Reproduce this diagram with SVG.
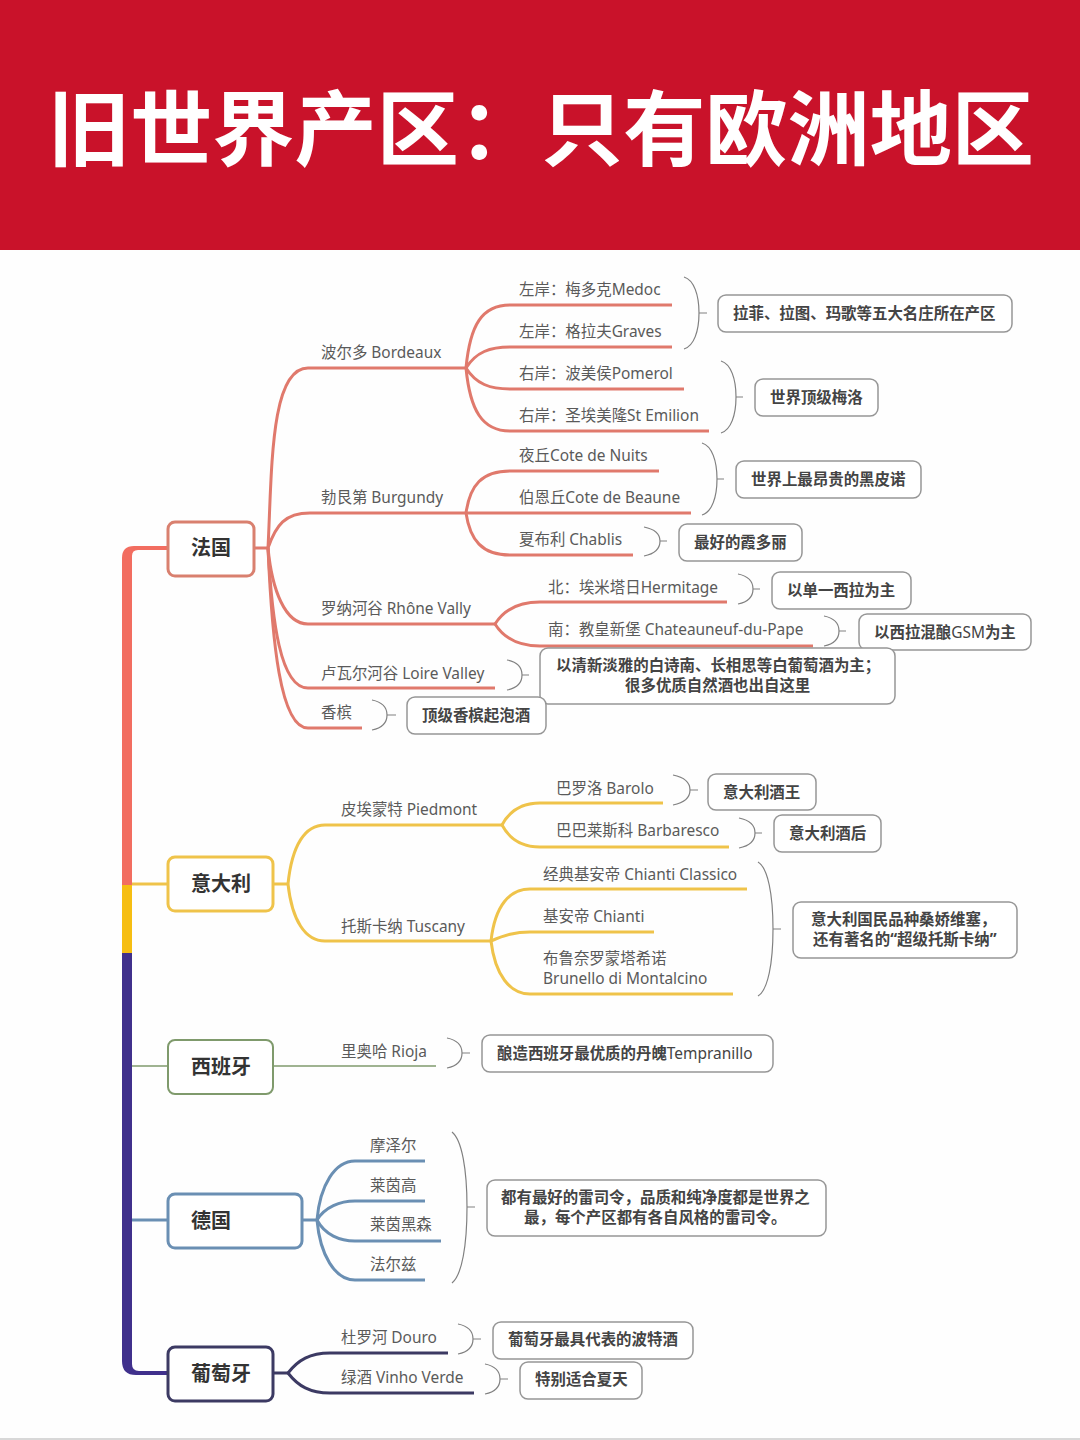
<svg xmlns="http://www.w3.org/2000/svg" width="1080" height="1440" viewBox="0 0 1080 1440">
<style>
text{font-family:"Noto Sans","Noto Sans CJK SC",sans-serif}
.l{font-size:15.45px;fill:#5a5a5a;transform:translateY(1px)}
.n{font-size:15.45px;font-weight:700;fill:#444;transform:translateY(1px)}
.w{font-weight:400}
.m{font-size:20px;font-weight:700;fill:#333}
.t{font-size:82px;font-weight:700;fill:#fff;font-family:"Noto Sans CJK SC",sans-serif}
.b{fill:#fff;stroke:#969696;stroke-width:1.5}
.k{fill:none;stroke:#808080;stroke-width:1.2}
.c{fill:none;stroke-linecap:butt}
.r{stroke:#e0796c;stroke-width:3}
.y{stroke:#efc34a;stroke-width:3}
.g{stroke:#7f9a6c;stroke-width:1.6}
.e{stroke:#6a8fb3;stroke-width:3}
.p{stroke:#3c3a63;stroke-width:3}
.mb{fill:#fff;stroke-width:3}
</style>
<rect width="1080" height="1440" fill="#fefefe"/>
<rect width="1080" height="250" fill="#c9122a"/>
<rect y="1438" width="1080" height="2" fill="#d8d8d8"/>
<text class="t" x="48" y="159" textLength="986" lengthAdjust="spacingAndGlyphs">旧世界产区：只有欧洲地区</text>
<g id="connectors">
<g id="spine">
<path d="M122 885V558Q122 546 134 546H168V550H138Q132 550 132 556V885Z" fill="#f26d60"/>
<rect x="122" y="885" width="10" height="68" fill="#f6be12"/>
<path d="M122 953H132V1364Q132 1371 139 1371H168V1375H136Q122 1375 122 1361Z" fill="#40308c"/>
</g>
<path class="c y" d="M132 884H168"/>
<path class="c g" d="M132 1066H168"/>
<path class="c e" d="M132 1220H168"/>
<g class="c r">
<path d="M254 548H268"/>
<path d="M268 548C272 470 270 368 308 368H466"/>
<path d="M268 548C276 525 285 513 310 513H466"/>
<path d="M268 548C272 590 285 624 308 624H495"/>
<path d="M268 548C272 620 280 688 308 688H495"/>
<path d="M268 548C272 640 280 728 308 728H362"/>
<path d="M466 368C470 325 482 305 510 305H672"/>
<path d="M466 368C476 352 490 347 510 347H672"/>
<path d="M466 368C476 384 490 389 510 389H684"/>
<path d="M466 368C470 410 482 431 510 431H709"/>
<path d="M466 513C470 485 482 471 510 471H659"/>
<path d="M466 513H691"/>
<path d="M466 513C470 540 482 555 510 555H633"/>
<path d="M495 624C505 608 520 602 540 602H727"/>
<path d="M495 624C505 640 520 646 540 646H813"/>
</g>
<g class="c y">
<path d="M273 884H288"/>
<path d="M288 884C292 845 305 825 325 825H502"/>
<path d="M288 884C292 920 305 941 325 941H491"/>
<path d="M502 825C510 810 522 803 540 803H663"/>
<path d="M502 825C510 840 522 847 540 847H729"/>
<path d="M491 941C495 905 510 889 530 889H747"/>
<path d="M491 941C505 935 515 932 530 932H654"/>
<path d="M491 941C495 975 510 994 530 994H733"/>
</g>
<path class="c g" d="M273 1066H436"/>
<g class="c e">
<path d="M302 1220H317"/>
<path d="M317 1220C320 1185 335 1161 355 1161H425"/>
<path d="M317 1220C325 1207 340 1201 355 1201H425"/>
<path d="M317 1220C325 1235 340 1241 355 1241H441"/>
<path d="M317 1220C320 1255 335 1280 355 1280H425"/>
</g>
<g class="c p">
<path d="M273 1373H288"/>
<path d="M288 1373C298 1360 310 1353 330 1353H448"/>
<path d="M288 1373C298 1386 310 1393 330 1393H474"/>
</g>
<g class="k">
<path d="M684 277C694 280 699 295 699 313C699 331 694 346 684 349M699 313H707"/>
<path d="M721 361C731 364 736 379 736 397C736 415 731 430 721 433M736 397H743"/>
<path d="M702 443C712 446 717 461 717 479C717 497 712 512 702 515M717 479H724"/>
<path d="M644 527C654 529 660 534 660 541C660 549 654 554 644 556M660 541H667"/>
<path d="M738 574C748 576 753 581 753 589C753 597 748 602 738 604M753 589H760"/>
<path d="M824 616C834 618 839 623 839 631C839 639 834 644 824 646M839 631H846"/>
<path d="M507 660C517 662 522 667 522 675C522 683 517 688 507 690M522 675H529"/>
<path d="M372 700C382 702 387 707 387 715C387 723 382 728 372 730M387 715H396"/>
<path d="M673 775C683 777 690 782 690 790C690 798 683 803 673 805M690 790H698"/>
<path d="M739 818C749 820 755 825 755 833C755 841 749 846 739 848M755 833H762"/>
<path d="M758 862C768 868 773 895 773 929C773 963 768 990 758 996M773 929H781"/>
<path d="M447 1038C457 1040 462 1045 462 1053C462 1061 457 1066 447 1068M462 1053H470"/>
<path d="M452 1132C462 1140 467 1170 467 1207C467 1245 462 1275 452 1283M467 1207H475"/>
<path d="M458 1324C468 1326 473 1331 473 1339C473 1347 468 1352 458 1354M473 1339H481"/>
<path d="M485 1364C495 1366 500 1371 500 1379C500 1387 495 1392 485 1394M500 1379H508"/>
</g>
</g>
<g id="fr"><rect class="mb" x="168" y="522" width="86" height="54" rx="7" stroke="#d9806f"/><text class="m" x="191" y="555">法国</text></g>
<g id="it"><rect class="mb" x="168" y="857" width="105" height="54" rx="7" stroke="#efc34a"/><text class="m" x="191" y="891">意大利</text></g>
<g id="es"><rect class="mb" x="168" y="1040" width="105" height="54" rx="7" stroke="#7f9a6c" style="stroke-width:2"/><text class="m" x="191" y="1074">西班牙</text></g>
<g id="de"><rect class="mb" x="168" y="1194" width="134" height="54" rx="7" stroke="#6a8fb3"/><text class="m" x="191" y="1228">德国</text></g>
<g id="pt"><rect class="mb" x="168" y="1347" width="105" height="54" rx="7" stroke="#3c3a63"/><text class="m" x="191" y="1381">葡萄牙</text></g>
<g id="labels-fr">
<text class="l" x="321" y="357">波尔多 Bordeaux</text>
<text class="l" x="321" y="502">勃艮第 Burgundy</text>
<text class="l" x="321" y="613">罗纳河谷 Rhône Vally</text>
<text class="l" x="321" y="678">卢瓦尔河谷 Loire Valley</text>
<text class="l" x="321" y="717">香槟</text>
<text class="l" x="519" y="294">左岸：梅多克Medoc</text>
<text class="l" x="519" y="336">左岸：格拉夫Graves</text>
<text class="l" x="519" y="378">右岸：波美侯Pomerol</text>
<text class="l" x="519" y="420">右岸：圣埃美隆St Emilion</text>
<text class="l" x="519" y="460">夜丘Cote de Nuits</text>
<text class="l" x="519" y="502">伯恩丘Cote de Beaune</text>
<text class="l" x="519" y="544">夏布利 Chablis</text>
<text class="l" x="548" y="592">北：埃米塔日Hermitage</text>
<text class="l" x="548" y="634">南：教皇新堡 Chateauneuf-du-Pape</text>
</g>
<g id="labels-it">
<text class="l" x="341" y="814">皮埃蒙特 Piedmont</text>
<text class="l" x="341" y="931">托斯卡纳 Tuscany</text>
<text class="l" x="556" y="793">巴罗洛 Barolo</text>
<text class="l" x="556" y="835">巴巴莱斯科 Barbaresco</text>
<text class="l" x="543" y="879">经典基安帝 Chianti Classico</text>
<text class="l" x="543" y="921">基安帝 Chianti</text>
<text class="l" x="543" y="963">布鲁奈罗蒙塔希诺</text>
<text class="l" x="543" y="983">Brunello di Montalcino</text>
</g>
<g id="labels-es"><text class="l" x="341" y="1056">里奥哈 Rioja</text></g>
<g id="labels-de">
<text class="l" x="370" y="1150">摩泽尔</text>
<text class="l" x="370" y="1190">莱茵高</text>
<text class="l" x="370" y="1229">莱茵黑森</text>
<text class="l" x="370" y="1269">法尔兹</text>
</g>
<g id="labels-pt">
<text class="l" x="341" y="1342">杜罗河 Douro</text>
<text class="l" x="341" y="1382">绿酒 Vinho Verde</text>
</g>
<g id="n1"><rect class="b" x="718" y="295" width="294" height="37" rx="8"/><text class="n" x="733" y="318">拉菲、拉图、玛歌等五大名庄所在产区</text></g>
<g id="n2"><rect class="b" x="755" y="379" width="123" height="37" rx="8"/><text class="n" x="770" y="402">世界顶级梅洛</text></g>
<g id="n3"><rect class="b" x="736" y="461" width="185" height="37" rx="8"/><text class="n" x="751" y="484">世界上最昂贵的黑皮诺</text></g>
<g id="n4"><rect class="b" x="679" y="524" width="123" height="37" rx="8"/><text class="n" x="694" y="547">最好的霞多丽</text></g>
<g id="n5"><rect class="b" x="772" y="572" width="139" height="37" rx="8"/><text class="n" x="787" y="595">以单一西拉为主</text></g>
<g id="n6"><rect class="b" x="859" y="614" width="172" height="36" rx="8"/><text class="n" x="874" y="637">以西拉混酿<tspan class="w">GSM</tspan>为主</text></g>
<g id="n7"><rect class="b" x="540" y="648" width="355" height="56" rx="8"/><text class="n" x="556" y="670">以清新淡雅的白诗南、长相思等白葡萄酒为主；</text><text class="n" x="625" y="690">很多优质自然酒也出自这里</text></g>
<g id="n8"><rect class="b" x="407" y="697" width="139" height="37" rx="8"/><text class="n" x="422" y="720">顶级香槟起泡酒</text></g>
<g id="n9"><rect class="b" x="708" y="774" width="108" height="36" rx="8"/><text class="n" x="723" y="797">意大利酒王</text></g>
<g id="n10"><rect class="b" x="774" y="815" width="107" height="37" rx="8"/><text class="n" x="789" y="838">意大利酒后</text></g>
<g id="n11"><rect class="b" x="793" y="902" width="224" height="56" rx="8"/><text class="n" x="811" y="924">意大利国民品种桑娇维塞，</text><text class="n" x="813" y="944">还有著名的“超级托斯卡纳”</text></g>
<g id="n12"><rect class="b" x="482" y="1035" width="291" height="37" rx="8"/><text class="n" x="497" y="1058">酿造西班牙最优质的丹魄<tspan class="w">Tempranillo</tspan></text></g>
<g id="n13"><rect class="b" x="487" y="1180" width="339" height="56" rx="8"/><text class="n" x="501" y="1202">都有最好的雷司令，品质和纯净度都是世界之</text><text class="n" x="524" y="1222">最，每个产区都有各自风格的雷司令。</text></g>
<g id="n14"><rect class="b" x="493" y="1322" width="200" height="37" rx="8"/><text class="n" x="508" y="1344">葡萄牙最具代表的波特酒</text></g>
<g id="n15"><rect class="b" x="520" y="1362" width="122" height="37" rx="8"/><text class="n" x="535" y="1384">特别适合夏天</text></g>
</svg>
